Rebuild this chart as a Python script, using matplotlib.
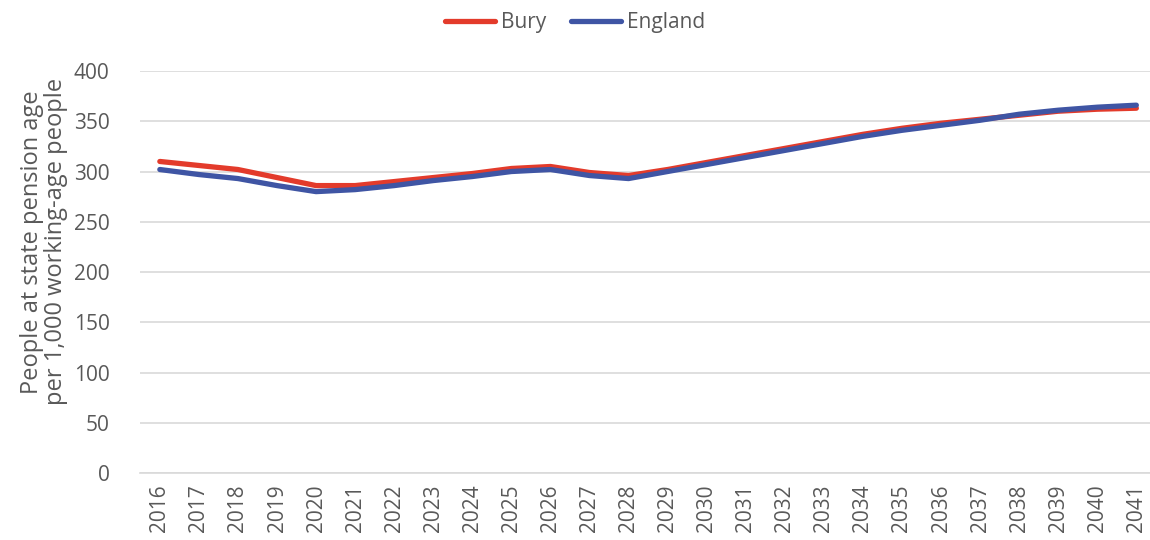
import matplotlib.pyplot as plt

# años de la proyección
anios = list(range(2016, 2042))

# personas en edad de jubilación por cada 1.000 en edad de trabajar
bury = [310, 306, 302, 294, 286, 286, 290, 294, 298, 303, 305, 299, 296,
        302, 309, 316, 323, 330, 337, 343, 348, 352, 356, 360, 362, 363]
england = [302, 297, 293, 286, 280, 282, 286, 291, 295, 300, 302, 296, 293,
           300, 307, 314, 321, 328, 335, 341, 346, 351, 357, 361, 364, 366]

plt.rcParams['font.family'] = ['Open Sans', 'DejaVu Sans']
gris = '#595959'

fig = plt.figure(figsize=(11.5, 5.4), dpi=100)
ax = fig.add_axes([0.122, 0.124, 0.878, 0.7445])

x = range(len(anios))
ax.plot(x, bury, color='#E33B2B', linewidth=3.8, solid_capstyle='round', label='Bury', zorder=3)
ax.plot(x, england, color='#3F55A4', linewidth=3.8, solid_capstyle='round', label='England', zorder=4)

ax.set_ylim(0, 400)
ax.set_yticks(range(0, 401, 50))
ax.set_xlim(-0.5, 25.35)
ax.set_xticks(list(x))
ax.set_xticklabels([str(a) for a in anios], rotation=90)

ax.grid(axis='y', color='#d9d9d9', linewidth=1.2)
ax.set_axisbelow(True)
for lado in ['top', 'right', 'left']:
    ax.spines[lado].set_visible(False)
ax.spines['bottom'].set_color('#d9d9d9')
ax.spines['bottom'].set_linewidth(1.2)
ax.tick_params(axis='both', length=0, labelsize=15, labelcolor=gris)
ax.tick_params(axis='x', pad=8)
ax.tick_params(axis='y', pad=22)

ax.set_ylabel('People at state pension age\nper 1,000 working-age people',
              fontsize=17, color=gris, linespacing=1.0)
# la etiqueta va algo por encima del centro del eje
ax.yaxis.set_label_coords(-0.072, 0.575)

fig.legend(loc='upper center', bbox_to_anchor=(0.5, 1.012), ncol=2, frameon=False,
           fontsize=15, labelcolor=gris, handlelength=2.4, handletextpad=0.3,
           columnspacing=1.2)

fig.savefig('out.png', dpi=100)
